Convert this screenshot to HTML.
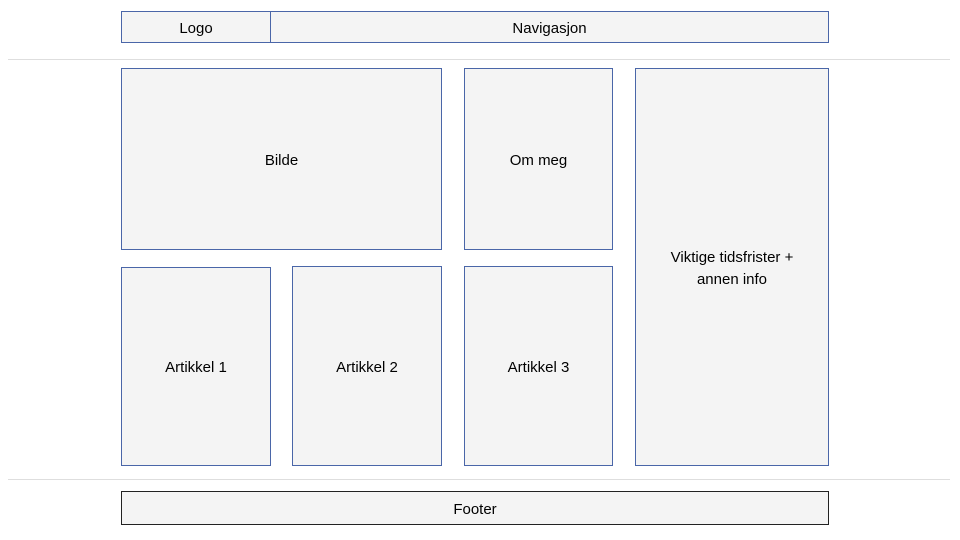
<!DOCTYPE html>
<html><head><meta charset="utf-8"><style>
body{margin:0;width:960px;height:540px;background:#fff;position:relative;overflow:hidden;font-family:"Liberation Sans",sans-serif;font-size:15px;color:#000}
.b{position:absolute;box-sizing:border-box;background:#f4f4f4;border:1px solid #4a66a8;display:flex;align-items:center;justify-content:center;text-align:center;line-height:22px;padding-top:3px}
.l{position:absolute;left:8px;width:942px;height:1px;background:#dedede}
</style></head><body>
<div class="b" style="left:121px;top:11px;width:150px;height:32px">Logo</div>
<div class="b" style="left:270px;top:11px;width:559px;height:32px">Navigasjon</div>
<div class="l" style="top:59px"></div>
<div class="b" style="left:121px;top:68px;width:321px;height:182px">Bilde</div>
<div class="b" style="left:464px;top:68px;width:149px;height:182px">Om meg</div>
<div class="b" style="left:635px;top:68px;width:194px;height:398px">Viktige tidsfrister +<br>annen info</div>
<div class="b" style="left:121px;top:267px;width:150px;height:199px">Artikkel 1</div>
<div class="b" style="left:292px;top:266px;width:150px;height:200px">Artikkel 2</div>
<div class="b" style="left:464px;top:266px;width:149px;height:200px">Artikkel 3</div>
<div class="l" style="top:479px"></div>
<div class="b" style="left:121px;top:491px;width:708px;height:34px;border-color:#222">Footer</div>
</body></html>
